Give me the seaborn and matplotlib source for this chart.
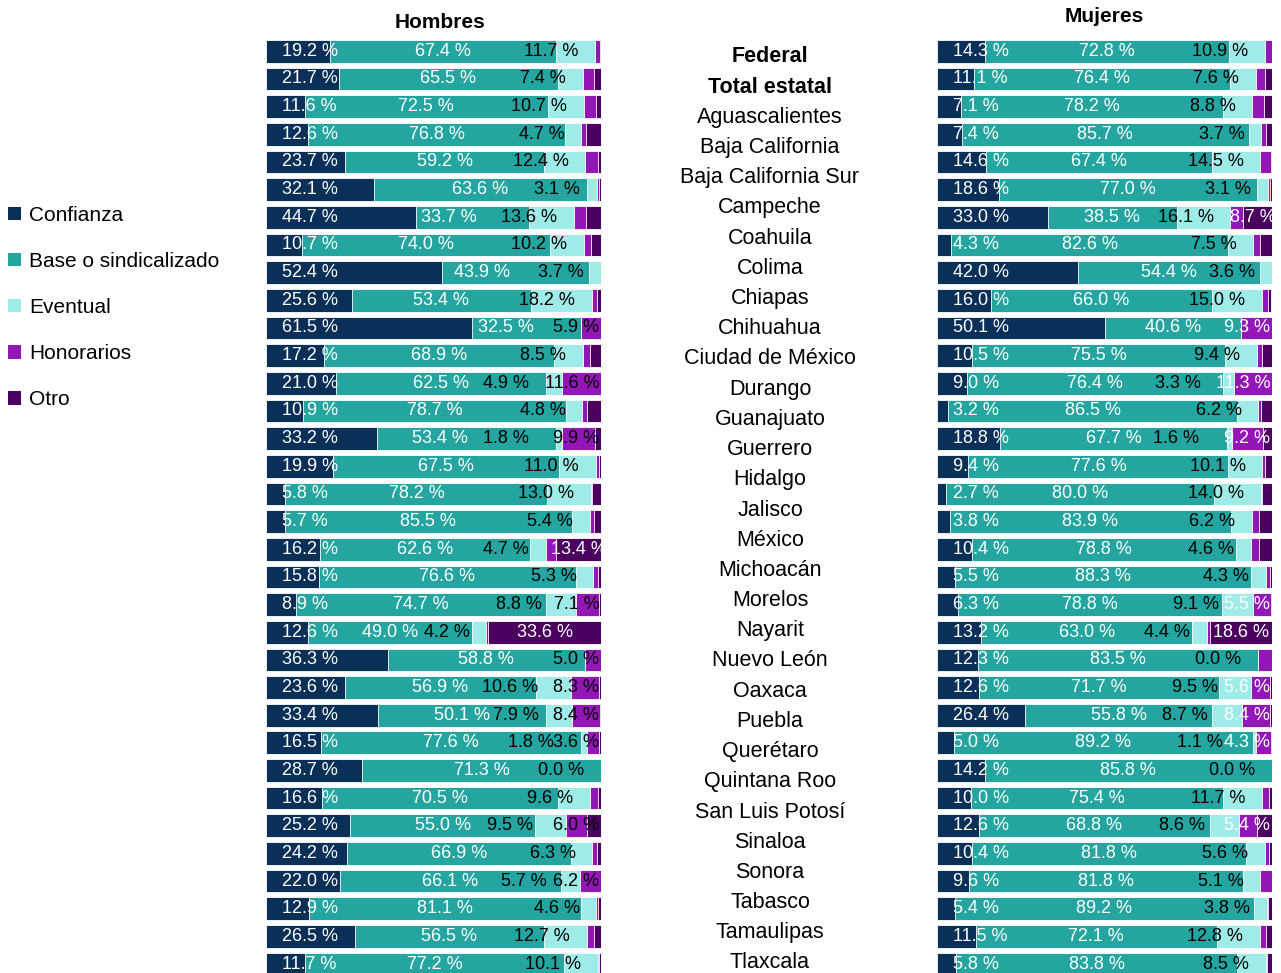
import numpy as np
import matplotlib
matplotlib.use("Agg")
import matplotlib.pyplot as plt
from matplotlib.patches import Patch
import seaborn as sns

nan = np.nan

filas = ["Federal", "Total estatal", "Aguascalientes", "Baja California", "Baja California Sur",
         "Campeche", "Coahuila", "Colima", "Chiapas", "Chihuahua", "Ciudad de México", "Durango",
         "Guanajuato", "Guerrero", "Hidalgo", "Jalisco", "México", "Michoacán", "Morelos", "Nayarit",
         "Nuevo León", "Oaxaca", "Puebla", "Querétaro", "Quintana Roo", "San Luis Potosí", "Sinaloa",
         "Sonora", "Tabasco", "Tamaulipas", "Tlaxcala", "Veracruz", "Yucatán", "Zacatecas"]

series = ["Confianza", "Base o sindicalizado", "Eventual", "Honorarios", "Otro"]
colores = ["#0b3057", "#25a59f", "#9eebe7", "#9317b6", "#4b005f"]

# Hombres
h_conf = [19.2, 21.7, 11.6, 12.6, 23.7, 32.1, 44.7, 10.7, 52.4, 25.6, 61.5, 17.2, 21.0, 10.9, 33.2, 19.9, 5.8,
          5.7, 16.2, 15.8, 8.9, 12.6, 36.3, 23.6, 33.4, 16.5, 28.7, 16.6, 25.2, 24.2, 22.0, 12.9, 26.5, 11.7]
h_base = [67.4, 65.5, 72.5, 76.8, 59.2, 63.6, 33.7, 74.0, 43.9, 53.4, 32.5, 68.9, 62.5, 78.7, 53.4, 67.5, 78.2,
          85.5, 62.6, 76.6, 74.7, 49.0, 58.8, 56.9, 50.1, 77.6, 71.3, 70.5, 55.0, 66.9, 66.1, 81.1, 56.5, 77.2]
h_even = [11.7, 7.4, 10.7, 4.7, 12.4, 3.1, 13.6, 10.2, 3.7, 18.2, nan, 8.5, 4.9, 4.8, 1.8, 11.0, 13.0,
          5.4, 4.7, 5.3, 8.8, 4.2, nan, 10.6, 7.9, 1.8, 0.0, 9.6, 9.5, 6.3, 5.7, 4.6, 12.7, 10.1]
h_hon = [1.5, 3.2, 3.6, 1.3, 3.9, 0.6, 3.4, 2.0, 0.0, 1.6, 5.9, 2.1, 11.6, 1.3, 9.9, 1.0, 0.3,
         1.3, 3.1, 1.5, 7.1, 0.6, 5.0, 8.3, 8.4, 3.6, 0.0, 2.4, 6.0, 1.3, 6.2, 0.6, 2.3, 0.3]
h_otro = [0.2, 2.2, 1.6, 4.6, 0.8, 0.6, 4.6, 3.1, 0.0, 1.2, 0.1, 3.3, 0.0, 4.3, 1.7, 0.6, 2.7,
          2.1, 13.4, 0.8, 0.5, 33.6, 0.0, 0.6, 0.2, 0.5, 0.0, 0.9, 4.3, 1.3, 0.0, 0.8, 2.0, 0.7]
h_hon_etq = [10, 12, 14, 20, 22, 23, 24, 25, 28, 30]
h_otro_etq = [18, 21]
h_base_mov = {6: -7, 8: -10, 10: -6, 14: -8}

# Mujeres
m_conf = [14.3, 11.1, 7.1, 7.4, 14.6, 18.6, 33.0, 4.3, 42.0, 16.0, 50.1, 10.5, 9.0, 3.2, 18.8, 9.4, 2.7,
          3.8, 10.4, 5.5, 6.3, 13.2, 12.3, 12.6, 26.4, 5.0, 14.2, 10.0, 12.6, 10.4, 9.6, 5.4, 11.5, 5.8]
m_base = [72.8, 76.4, 78.2, 85.7, 67.4, 77.0, 38.5, 82.6, 54.4, 66.0, 40.6, 75.5, 76.4, 86.5, 67.7, 77.6, 80.0,
          83.9, 78.8, 88.3, 78.8, 63.0, 83.5, 71.7, 55.8, 89.2, 85.8, 75.4, 68.8, 81.8, 81.8, 89.2, 72.1, 83.8]
m_even = [10.9, 7.6, 8.8, 3.7, 14.5, 3.1, 16.1, 7.5, 3.6, 15.0, nan, 9.4, 3.3, 6.2, 1.6, 10.1, 14.0,
          6.2, 4.6, 4.3, 9.1, 4.4, 0.0, 9.5, 8.7, 1.1, 0.0, 11.7, 8.6, 5.6, 5.1, 3.8, 12.8, 8.5]
m_hon = [1.9, 2.9, 3.5, 1.5, 3.3, 0.6, 3.7, 2.1, 0.0, 1.8, 9.3, 1.7, 11.3, 0.9, 9.2, 0.9, 0.2,
         2.2, 2.2, 1.4, 5.5, 0.8, 4.2, 5.6, 8.4, 4.3, 0.0, 2.0, 5.4, 1.2, 3.5, 0.3, 1.9, 0.3]
m_otro = [0.1, 2.0, 2.4, 1.7, 0.2, 0.7, 8.7, 3.5, 0.0, 0.8, 0.0, 2.9, 0.0, 3.2, 2.7, 2.0, 3.1,
          3.9, 4.0, 0.5, 0.3, 18.6, 0.0, 0.6, 0.7, 0.4, 0.0, 0.9, 4.6, 1.0, 0.0, 1.3, 1.7, 1.6]
m_hon_etq = [10, 12, 14, 20, 23, 24, 25, 28]
m_otro_etq = [6, 21]
m_base_mov = {}

sns.set_theme(style="white")
plt.rcParams["font.family"] = ["Liberation Sans", "DejaVu Sans"]
plt.rcParams["text.color"] = "black"

W, H = 1281, 973
fig = plt.figure(figsize=(W / 100, H / 100), dpi=100)

FS = 13


def panel(x0, vals, hon_etq, otro_etq, base_mov, hon_color):
    n = len(filas)
    top = 37.5
    step = 27.66
    bottom = top + step * n
    ax = fig.add_axes([x0 / W, 1 - bottom / H, 335 / W, step * n / H])
    arr = np.nan_to_num(np.array(vals, dtype=float))
    cum = np.cumsum(arr, axis=0)
    # de atras hacia adelante
    for k in range(4, -1, -1):
        sns.barplot(x=cum[k], y=filas, order=filas, orient="h", color=colores[k],
                    saturation=1, width=0.82, edgecolor="white", linewidth=0.6, ax=ax)
    ax.set_xlim(0, 100)
    ax.set_ylim(n - 0.5, -0.5)
    ax.axis("off")
    conf, base, even, hon, otro = vals
    for i in range(n):
        ax.text(4.8, i, f"{conf[i]:.1f} %", ha="left", va="center", color="white", fontsize=FS)
        ax.text(cum[0][i] + base[i] / 2 + base_mov.get(i, 0), i, f"{base[i]:.1f} %",
                ha="center", va="center", color="white", fontsize=FS)
        if not np.isnan(even[i]):
            off = 10.0 if i in hon_etq else 5.0
            ax.text(cum[2][i] - off, i, f"{even[i]:.1f} %", ha="right", va="center",
                    color="black", fontsize=FS)
        if i in hon_etq:
            ax.text(99.5, i, f"{hon[i]:.1f} %", ha="right", va="center", color=hon_color, fontsize=FS)
        if i in otro_etq:
            ax.text(min(cum[3][i] + otro[i] / 2, 94.3), i, f"{otro[i]:.1f} %", ha="center",
                    va="center", color="white", fontsize=FS)
    return ax


panel(266, [h_conf, h_base, h_even, h_hon, h_otro], h_hon_etq, h_otro_etq, h_base_mov, "black")
panel(937, [m_conf, m_base, m_even, m_hon, m_otro], m_hon_etq, m_otro_etq, m_base_mov, "white")

fig.text(440 / W, 1 - 23 / H, "Hombres", ha="center", va="center", fontsize=15, fontweight="bold")
fig.text(1104 / W, 1 - 17 / H, "Mujeres", ha="center", va="center", fontsize=15, fontweight="bold")

for i, nombre in enumerate(filas):
    y = 57 + 30.2 * i
    if y > H:
        break
    fig.text(770 / W, 1 - y / H, nombre, ha="center", va="center", fontsize=15.5,
             fontweight="bold" if i < 2 else "normal")

handles = [Patch(facecolor=c, edgecolor="none") for c in colores]
fig.legend(handles, series, loc="upper left", bbox_to_anchor=(8 / W, 1 - 206 / H),
           frameon=False, fontsize=15, handlelength=0.6, handleheight=0.6,
           handletextpad=0.4, labelspacing=1.3, borderpad=0, borderaxespad=0)

fig.savefig("out.png", dpi=100)
